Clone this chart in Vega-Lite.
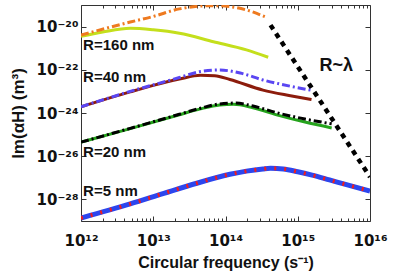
{
  "$schema": "https://vega.github.io/schema/vega-lite/v6.json",
  "width": 289,
  "height": 216,
  "autosize": {"type": "none"},
  "padding": {"left": 81, "top": 5, "right": 39, "bottom": 50},
  "config": {
    "view": {"stroke": "#333", "strokeWidth": 1},
    "font": "Liberation Sans",
    "axis": {"domain": false, "grid": false, "tickColor": "#333", "labelFont": "Liberation Sans", "labelFontWeight": "bold", "labelColor": "#111", "titleFont": "Liberation Sans", "titleFontWeight": "bold", "titleColor": "#111"}
  },
  "datasets": {
    "curves": [
      {"s": "b5", "f": 1e12, "v": 1.38e-29}, {"s": "b5", "f": 4.8e12, "v": 6.17e-29}, {"s": "b5", "f": 1.4e13, "v": 1.9e-28}, {"s": "b5", "f": 4e13, "v": 5.6e-28}, {"s": "b5", "f": 1.15e14, "v": 1.45e-27}, {"s": "b5", "f": 1.95e14, "v": 2.04e-27}, {"s": "b5", "f": 3.3e14, "v": 2.57e-27}, {"s": "b5", "f": 4.2e14, "v": 2.75e-27}, {"s": "b5", "f": 6.3e14, "v": 2.57e-27}, {"s": "b5", "f": 1e15, "v": 1.9e-27}, {"s": "b5", "f": 1.58e15, "v": 1.32e-27}, {"s": "b5", "f": 2.75e15, "v": 7.94e-28}, {"s": "b5", "f": 5e15, "v": 4.57e-28}, {"s": "b5", "f": 1e16, "v": 2.45e-28},
      {"s": "r5", "f": 1e12, "v": 1.38e-29}, {"s": "r5", "f": 4.8e12, "v": 6.17e-29}, {"s": "r5", "f": 1.4e13, "v": 1.9e-28}, {"s": "r5", "f": 4e13, "v": 5.6e-28}, {"s": "r5", "f": 1.15e14, "v": 1.45e-27}, {"s": "r5", "f": 1.95e14, "v": 2.04e-27}, {"s": "r5", "f": 3.3e14, "v": 2.57e-27}, {"s": "r5", "f": 4.2e14, "v": 2.75e-27}, {"s": "r5", "f": 6.3e14, "v": 2.57e-27}, {"s": "r5", "f": 1e15, "v": 1.9e-27}, {"s": "r5", "f": 1.58e15, "v": 1.32e-27}, {"s": "r5", "f": 2.75e15, "v": 7.94e-28}, {"s": "r5", "f": 5e15, "v": 4.57e-28}, {"s": "r5", "f": 1e16, "v": 2.45e-28},
      {"s": "g20", "f": 1e12, "v": 4.47e-26}, {"s": "g20", "f": 4.8e12, "v": 1.9e-25}, {"s": "g20", "f": 2.3e13, "v": 8.3e-25}, {"s": "g20", "f": 4.5e13, "v": 1.55e-24}, {"s": "g20", "f": 8.3e13, "v": 2.34e-24}, {"s": "g20", "f": 1.3e14, "v": 2.51e-24}, {"s": "g20", "f": 2.4e14, "v": 1.74e-24}, {"s": "g20", "f": 5.6e14, "v": 7.59e-25}, {"s": "g20", "f": 1.26e15, "v": 3.8e-25}, {"s": "g20", "f": 2.95e15, "v": 2.04e-25},
      {"s": "d40", "f": 1e12, "v": 1.95e-24}, {"s": "d40", "f": 4.8e12, "v": 9.55e-24}, {"s": "d40", "f": 1e13, "v": 1.91e-23}, {"s": "d40", "f": 2.3e13, "v": 3.72e-23}, {"s": "d40", "f": 4.5e13, "v": 5.62e-23}, {"s": "d40", "f": 7.1e13, "v": 5.37e-23}, {"s": "d40", "f": 1.15e14, "v": 3.55e-23}, {"s": "d40", "f": 3.3e14, "v": 1.15e-23}, {"s": "d40", "f": 7.9e14, "v": 6.31e-24}, {"s": "d40", "f": 1.55e15, "v": 4.17e-24},
      {"s": "l160", "f": 1e12, "v": 3.55e-21}, {"s": "l160", "f": 2e12, "v": 5.62e-21}, {"s": "l160", "f": 4.8e12, "v": 8.32e-21}, {"s": "l160", "f": 1e13, "v": 7.08e-21}, {"s": "l160", "f": 2.3e13, "v": 4.9e-21}, {"s": "l160", "f": 6.8e13, "v": 2e-21}, {"s": "l160", "f": 1.95e14, "v": 8.32e-22}, {"s": "l160", "f": 3.9e14, "v": 3.8e-22},
      {"s": "k20", "f": 1e12, "v": 4.47e-26}, {"s": "k20", "f": 4.8e12, "v": 1.95e-25}, {"s": "k20", "f": 2.3e13, "v": 8.7e-25}, {"s": "k20", "f": 4.5e13, "v": 1.66e-24}, {"s": "k20", "f": 8.3e13, "v": 2.63e-24}, {"s": "k20", "f": 1.4e14, "v": 2.88e-24}, {"s": "k20", "f": 2.4e14, "v": 2.09e-24}, {"s": "k20", "f": 5.6e14, "v": 9.55e-25}, {"s": "k20", "f": 1.26e15, "v": 5.25e-25}, {"s": "k20", "f": 2.95e15, "v": 3.16e-25},
      {"s": "p40", "f": 1e12, "v": 1.95e-24}, {"s": "p40", "f": 4.8e12, "v": 1e-23}, {"s": "p40", "f": 2.3e13, "v": 4.37e-23}, {"s": "p40", "f": 4.5e13, "v": 8.32e-23}, {"s": "p40", "f": 8.3e13, "v": 9.77e-23}, {"s": "p40", "f": 1.6e14, "v": 7.08e-23}, {"s": "p40", "f": 3.3e14, "v": 3.39e-23}, {"s": "p40", "f": 7.9e14, "v": 1.74e-23}, {"s": "p40", "f": 1.5e15, "v": 1.15e-23},
      {"s": "o160", "f": 1e12, "v": 4.07e-21}, {"s": "o160", "f": 4.8e12, "v": 1.62e-20}, {"s": "o160", "f": 1e13, "v": 2.95e-20}, {"s": "o160", "f": 2.3e13, "v": 6.61e-20}, {"s": "o160", "f": 4.5e13, "v": 8.91e-20}, {"s": "o160", "f": 7.1e13, "v": 9.33e-20}, {"s": "o160", "f": 1.12e14, "v": 8.51e-20}, {"s": "o160", "f": 1.95e14, "v": 5.89e-20}, {"s": "o160", "f": 3.5e14, "v": 2.88e-20},
      {"s": "lam", "f": 4.2e14, "v": 1.17e-20}, {"s": "lam", "f": 1e16, "v": 1.1e-27}
    ],
    "labels": [
      {"t": "R=160 nm", "f": 1.07e12, "v": 8.3e-22, "k": "r"},
      {"t": "R=40 nm", "f": 1.07e12, "v": 2.8e-23, "k": "r"},
      {"t": "R=20 nm", "f": 1.07e12, "v": 8.9e-27, "k": "r"},
      {"t": "R=5 nm", "f": 1.07e12, "v": 1.4e-28, "k": "r"},
      {"t": "R~λ", "f": 2.0e15, "v": 8.7e-23, "k": "lam"}
    ]
  },
  "resolve": {"axis": {"x": "independent", "y": "independent"}},
  "layer": [
    {
      "data": {"name": "curves"},
      "transform": [{"filter": "datum.s == 'b5'"}],
      "mark": {"type": "line", "color": "#2c46ee", "strokeWidth": 5, "interpolate": "monotone", "clip": true},
      "encoding": {
        "x": {"field": "f", "type": "quantitative", "scale": {"type": "log", "domain": [1e12, 1e16], "nice": false},
          "axis": {"orient": "bottom", "values": [1e12, 1e13, 1e14, 1e15, 1e16], "tickSize": -5, "labelPadding": 17, "labelFontSize": 15, "labelFont": "DejaVu Sans", "labelFlush": false, "labelOverlap": false, "labelBaseline": "top",
            "labelExpr": "'10' + (datum.value < 1 ? '⁻' : '') + substring('⁰¹²³⁴⁵⁶⁷⁸⁹', floor(abs(round(log(datum.value)/LN10))/10), floor(abs(round(log(datum.value)/LN10))/10)+1) + substring('⁰¹²³⁴⁵⁶⁷⁸⁹', abs(round(log(datum.value)/LN10))%10, abs(round(log(datum.value)/LN10))%10+1)",
            "title": "Circular frequency (s⁻¹)", "titleFontSize": 16, "titlePadding": 6}},
        "y": {"field": "v", "type": "quantitative", "scale": {"type": "log", "domain": [1e-29, 1e-19], "nice": false},
          "axis": {"orient": "left", "values": [1e-28, 1e-26, 1e-24, 1e-22, 1e-20], "tickSize": -5, "labelPadding": 8, "labelFontSize": 15, "labelFont": "DejaVu Sans", "labelFlush": false, "labelOverlap": false,
            "labelExpr": "'10' + (datum.value < 1 ? '⁻' : '') + substring('⁰¹²³⁴⁵⁶⁷⁸⁹', floor(abs(round(log(datum.value)/LN10))/10), floor(abs(round(log(datum.value)/LN10))/10)+1) + substring('⁰¹²³⁴⁵⁶⁷⁸⁹', abs(round(log(datum.value)/LN10))%10, abs(round(log(datum.value)/LN10))%10+1)",
            "title": "Im(αH) (m³)", "titleFontSize": 17, "titlePadding": 9}}
      }
    },
    {
      "data": {"name": "curves"},
      "transform": [{"filter": "datum.s == 'r5'"}],
      "mark": {"type": "line", "color": "#f21c1c", "strokeWidth": 4, "strokeDash": [2, 8], "interpolate": "monotone", "clip": true},
      "encoding": {
        "x": {"field": "f", "type": "quantitative", "scale": {"type": "log", "domain": [1e12, 1e16], "nice": false},
          "axis": {"orient": "bottom", "values": [2e12, 3e12, 4e12, 5e12, 6e12, 7e12, 8e12, 9e12, 2e13, 3e13, 4e13, 5e13, 6e13, 7e13, 8e13, 9e13, 2e14, 3e14, 4e14, 5e14, 6e14, 7e14, 8e14, 9e14, 2e15, 3e15, 4e15, 5e15, 6e15, 7e15, 8e15, 9e15], "tickSize": -3, "labels": false, "title": null}},
        "y": {"field": "v", "type": "quantitative", "scale": {"type": "log", "domain": [1e-29, 1e-19], "nice": false},
          "axis": {"orient": "right", "values": [1e-28, 1e-26, 1e-24, 1e-22, 1e-20], "tickSize": -5, "labels": false, "title": null}}
      }
    },
    {
      "data": {"name": "curves"},
      "transform": [{"filter": "indexof(['g20','d40','l160'], datum.s) >= 0"}],
      "mark": {"type": "line", "strokeWidth": 3, "interpolate": "monotone", "clip": true},
      "encoding": {
        "x": {"field": "f", "type": "quantitative", "scale": {"type": "log", "domain": [1e12, 1e16], "nice": false},
          "axis": {"orient": "top", "values": [1e12, 1e13, 1e14, 1e15, 1e16], "tickSize": -5, "labels": false, "title": null}},
        "y": {"field": "v", "type": "quantitative", "scale": {"type": "log", "domain": [1e-29, 1e-19], "nice": false}, "axis": null},
        "color": {"field": "s", "type": "nominal", "scale": {"domain": ["g20", "d40", "l160", "k20", "p40", "o160"], "range": ["#25a31c", "#8c1c0c", "#c4df1c", "#000000", "#5a46f2", "#ee7a20"]}, "legend": null}
      }
    },
    {
      "data": {"name": "curves"},
      "transform": [{"filter": "indexof(['k20','p40','o160'], datum.s) >= 0"}],
      "mark": {"type": "line", "strokeWidth": 3, "strokeDash": [8, 3, 2, 3], "interpolate": "monotone", "clip": true},
      "encoding": {
        "x": {"field": "f", "type": "quantitative", "scale": {"type": "log", "domain": [1e12, 1e16], "nice": false},
          "axis": {"orient": "top", "values": [2e12, 3e12, 4e12, 5e12, 6e12, 7e12, 8e12, 9e12, 2e13, 3e13, 4e13, 5e13, 6e13, 7e13, 8e13, 9e13, 2e14, 3e14, 4e14, 5e14, 6e14, 7e14, 8e14, 9e14, 2e15, 3e15, 4e15, 5e15, 6e15, 7e15, 8e15, 9e15], "tickSize": -3, "labels": false, "title": null}},
        "y": {"field": "v", "type": "quantitative", "scale": {"type": "log", "domain": [1e-29, 1e-19], "nice": false}, "axis": null},
        "color": {"field": "s", "type": "nominal", "scale": {"domain": ["g20", "d40", "l160", "k20", "p40", "o160"], "range": ["#25a31c", "#8c1c0c", "#c4df1c", "#000000", "#5a46f2", "#ee7a20"]}, "legend": null}
      }
    },
    {
      "data": {"name": "curves"},
      "transform": [{"filter": "datum.s == 'lam'"}],
      "mark": {"type": "line", "color": "#000000", "strokeWidth": 4.5, "strokeDash": [5, 5], "clip": true},
      "encoding": {
        "x": {"field": "f", "type": "quantitative", "scale": {"type": "log", "domain": [1e12, 1e16], "nice": false}, "axis": null},
        "y": {"field": "v", "type": "quantitative", "scale": {"type": "log", "domain": [1e-29, 1e-19], "nice": false}, "axis": null}
      }
    },
    {
      "data": {"name": "labels"},
      "transform": [{"filter": "datum.k == 'r'"}],
      "mark": {"type": "text", "align": "left", "baseline": "alphabetic", "font": "Liberation Sans", "fontWeight": "bold", "fontSize": 15, "color": "#111"},
      "encoding": {
        "x": {"field": "f", "type": "quantitative", "scale": {"type": "log", "domain": [1e12, 1e16], "nice": false}, "axis": null},
        "y": {"field": "v", "type": "quantitative", "scale": {"type": "log", "domain": [1e-29, 1e-19], "nice": false}, "axis": null},
        "text": {"field": "t"}
      }
    },
    {
      "data": {"name": "labels"},
      "transform": [{"filter": "datum.k == 'lam'"}],
      "mark": {"type": "text", "align": "left", "baseline": "alphabetic", "font": "Liberation Sans", "fontWeight": "bold", "fontSize": 18, "color": "#111"},
      "encoding": {
        "x": {"field": "f", "type": "quantitative", "scale": {"type": "log", "domain": [1e12, 1e16], "nice": false}, "axis": null},
        "y": {"field": "v", "type": "quantitative", "scale": {"type": "log", "domain": [1e-29, 1e-19], "nice": false}, "axis": null},
        "text": {"field": "t"}
      }
    }
  ]
}
